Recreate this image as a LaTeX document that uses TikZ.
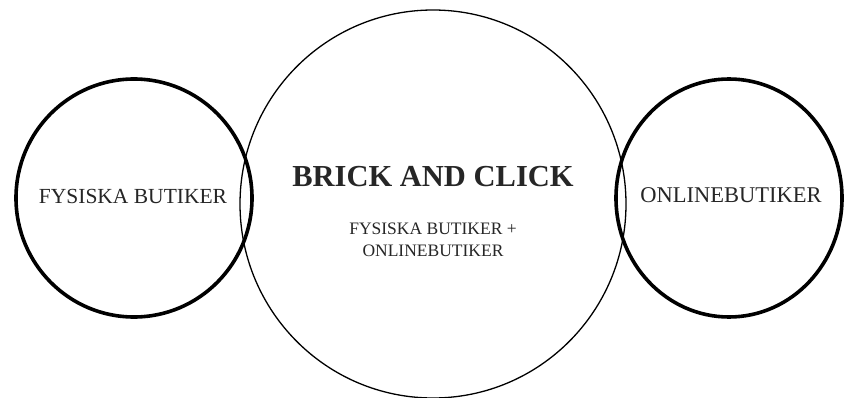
\documentclass[tikz,border=0pt]{standalone}
\usepackage{fontspec}
\setmainfont{Liberation Serif}
\usetikzlibrary{shapes.geometric}
\tikzset{
  ring/.style={draw=black, ellipse, inner sep=0pt},
  thickring/.style={ring, line width=3.6pt},
  thinring/.style={ring, line width=1.3pt},
  lbl/.style={anchor=base, inner sep=0pt, text=black!85},
}
\begin{document}
\begin{tikzpicture}[x=1pt, y=-1pt]
\useasboundingbox[fill=white] (0,0) rectangle (845,398);
\node[thinring, minimum width=386pt, minimum height=388pt] (mid) at (433,204) {};
\node[thickring, minimum width=236pt, minimum height=238pt] (left) at (134,198) {};
\node[thickring, minimum width=226pt, minimum height=238pt] (right) at (729,198) {};
\node[lbl, font=\fontsize{21.5}{24}\selectfont] (lt) at (133,203) {FYSISKA BUTIKER};
\node[lbl, font=\fontsize{22.5}{24}\selectfont] (rt) at (731,202.5) {ONLINEBUTIKER};
\node[lbl, font=\fontsize{30.5}{34}\selectfont\bfseries] (title) at (433,186.5) {BRICK AND CLICK};
\node[lbl, font=\fontsize{17.5}{22}\selectfont] (s1) at (433,234) {FYSISKA BUTIKER +};
\node[lbl, font=\fontsize{17.5}{22}\selectfont] (s2) at (433,256) {ONLINEBUTIKER};
\end{tikzpicture}
\end{document}
